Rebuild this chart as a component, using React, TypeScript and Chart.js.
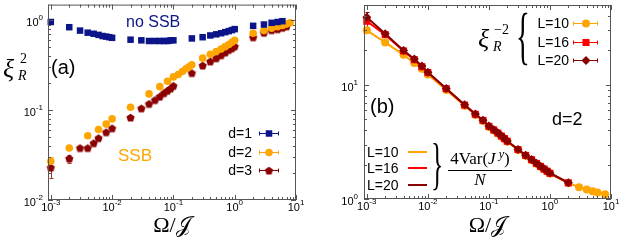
import { useEffect, useRef } from 'react';
import { Chart, registerables } from 'chart.js';
Chart.register(...registerables);

const NAVY = '#0c1489';
const ORANGE = '#ffa500';
const DARKRED = '#8b0000';
const RED = '#ff0000';
const FRAME = '#555555';
const SANS = "'Liberation Sans', Arial, sans-serif";
const SERIF = "'Liberation Serif', 'Times New Roman', serif";

// ---------- Panel (a): xi_R^2 vs Omega/J ----------
const A_X_D1 = [0.001, 0.002, 0.003, 0.004, 0.005, 0.006, 0.007, 0.008, 0.009, 0.01, 0.02, 0.03, 0.04, 0.05, 0.06, 0.07, 0.08, 0.09, 0.1, 0.2, 0.3, 0.4, 0.5, 0.6, 0.7, 0.8, 0.9, 1, 2, 3, 4, 5, 6];
const A_Y_D1 = [0.96, 0.84, 0.77, 0.73, 0.71, 0.69, 0.67, 0.66, 0.65, 0.64, 0.61, 0.6, 0.59, 0.59, 0.59, 0.59, 0.59, 0.6, 0.6, 0.63, 0.65, 0.68, 0.7, 0.72, 0.74, 0.76, 0.78, 0.8, 0.87, 0.9, 0.94, 0.96, 0.98];

const A_X_D2 = [0.001, 0.002, 0.004, 0.006, 0.008, 0.01, 0.02, 0.04, 0.06, 0.08, 0.1, 0.12, 0.14, 0.16, 0.18, 0.2, 0.3, 0.4, 0.5, 0.6, 0.7, 0.8, 0.9, 1, 2, 3, 4, 5, 6, 7, 8];
const A_Y_D2 = [0.027, 0.038, 0.052, 0.061, 0.07, 0.08, 0.108, 0.152, 0.183, 0.21, 0.235, 0.25, 0.27, 0.29, 0.305, 0.32, 0.38, 0.42, 0.45, 0.48, 0.51, 0.54, 0.57, 0.6, 0.72, 0.77, 0.82, 0.85, 0.88, 0.91, 0.94];
const A_ERR_D2 = [0.003, 0, 0, 0, 0, 0, 0, 0, 0, 0, 0, 0, 0, 0, 0, 0, 0, 0, 0, 0, 0, 0, 0, 0, 0, 0, 0, 0, 0, 0, 0];

const A_X_D3 = [0.001, 0.002, 0.003, 0.004, 0.005, 0.006, 0.008, 0.01, 0.02, 0.03, 0.04, 0.05, 0.06, 0.07, 0.08, 0.09, 0.1, 0.2, 0.3, 0.4, 0.5, 0.6, 0.7, 0.8, 0.9, 1, 2, 3, 4, 5, 6, 7];
const A_Y_D3 = [0.023, 0.029, 0.038, 0.038, 0.043, 0.049, 0.057, 0.063, 0.083, 0.105, 0.118, 0.13, 0.142, 0.155, 0.165, 0.175, 0.187, 0.26, 0.315, 0.35, 0.38, 0.41, 0.44, 0.47, 0.49, 0.515, 0.65, 0.73, 0.78, 0.8, 0.83, 0.86];
const A_ERR_D3 = [0.0055, 0.003, 0, 0, 0, 0, 0, 0, 0, 0, 0, 0, 0, 0, 0, 0, 0, 0, 0, 0, 0, 0, 0, 0, 0, 0, 0, 0, 0, 0, 0, 0];

const A_LEGEND = ['d=1', 'd=2', 'd=3'];
const A_Y_TICK_EXP = [-2, -1, 0];

// ---------- Panel (b): xi_R^-2 and 4Var(J^y)/N ----------
const B_X = [0.001, 0.002, 0.004, 0.006, 0.008, 0.01, 0.02, 0.04, 0.06, 0.08, 0.1, 0.12, 0.14, 0.16, 0.18, 0.2, 0.3, 0.4, 0.5, 0.6, 0.7, 0.8, 0.9, 1, 2];
const B_X_L10 = [0.001, 0.002, 0.004, 0.006, 0.008, 0.01, 0.02, 0.04, 0.06, 0.08, 0.1, 0.12, 0.14, 0.16, 0.18, 0.2, 0.3, 0.4, 0.5, 0.6, 0.7, 0.8, 0.9, 1, 2, 3, 4, 5, 6, 8];
const B_Y_L10 = [30, 23.5, 18.3, 15.5, 13.8, 12.3, 9.0, 6.55, 5.45, 4.82, 4.28, 3.99, 3.75, 3.53, 3.35, 3.18, 2.69, 2.39, 2.19, 2.04, 1.92, 1.82, 1.74, 1.67, 1.38, 1.27, 1.21, 1.17, 1.14, 1.1];
const B_Y_L16 = [36, 27.5, 19.8, 16.6, 14.4, 12.8, 9.25, 6.65, 5.52, 4.88, 4.33, 4.03, 3.78, 3.56, 3.38, 3.21, 2.71, 2.41, 2.21, 2.05, 1.93, 1.83, 1.75, 1.68, 1.385];
const B_Y_L20 = [39, 28, 20, 16.8, 14.6, 12.9, 9.3, 6.7, 5.55, 4.9, 4.35, 4.05, 3.8, 3.58, 3.4, 3.22, 2.72, 2.42, 2.22, 2.06, 1.94, 1.84, 1.76, 1.69, 1.39];
const B_ERR_L16 = [4, 0, 0, 0, 0, 0, 0, 0, 0, 0, 0, 0, 0, 0, 0, 0, 0, 0, 0, 0, 0, 0, 0, 0, 0];
const B_ERR_L20 = [4.5, 0, 0, 0, 0, 0, 0, 0, 0, 0, 0, 0, 0, 0, 0, 0, 0, 0, 0, 0, 0, 0, 0, 0, 0];

const B_LEGEND = ['L=10', 'L=16', 'L=20'];
const B_Y_TICK_EXP = [0, 1];
const X_TICK_EXP = [-3, -2, -1, 0, 1];

// ---------- helpers ----------
type Part = { t: string; f: string; dy?: number; c?: string };

function richWidth(ctx: CanvasRenderingContext2D, parts: Part[]) {
  let w = 0;
  for (const p of parts) {
    ctx.font = p.f;
    w += ctx.measureText(p.t).width;
  }
  return w;
}

function drawRich(ctx: CanvasRenderingContext2D, parts: Part[], x: number, y: number, align: 'left' | 'center' | 'right', color = '#000') {
  const w = richWidth(ctx, parts);
  let cx = align === 'left' ? x : align === 'center' ? x - w / 2 : x - w;
  ctx.textAlign = 'left';
  ctx.textBaseline = 'alphabetic';
  for (const p of parts) {
    ctx.font = p.f;
    ctx.fillStyle = p.c || color;
    ctx.fillText(p.t, cx, y + (p.dy || 0));
    cx += ctx.measureText(p.t).width;
  }
}

function makePentagon(color: string, r: number) {
  const size = Math.ceil(2 * r + 2);
  const c = document.createElement('canvas');
  c.width = size;
  c.height = size;
  const g = c.getContext('2d')!;
  g.fillStyle = color;
  g.beginPath();
  for (let i = 0; i < 5; i++) {
    const a = -Math.PI / 2 + (i * 2 * Math.PI) / 5;
    const px = size / 2 + r * Math.cos(a);
    const py = size / 2 + r * Math.sin(a) + r * 0.1;
    if (i === 0) g.moveTo(px, py);
    else g.lineTo(px, py);
  }
  g.closePath();
  g.fill();
  return c;
}

function drawMarker(ctx: CanvasRenderingContext2D, style: string, x: number, y: number, r: number, color: string, img?: HTMLCanvasElement) {
  ctx.fillStyle = color;
  ctx.beginPath();
  if (style === 'rect') {
    const s = r * Math.SQRT1_2;
    ctx.rect(x - s, y - s, 2 * s, 2 * s);
  } else if (style === 'circle') {
    ctx.arc(x, y, r, 0, Math.PI * 2);
  } else if (style === 'rectRot') {
    ctx.moveTo(x, y - r);
    ctx.lineTo(x + r, y);
    ctx.lineTo(x, y + r);
    ctx.lineTo(x - r, y);
    ctx.closePath();
  } else if (img) {
    ctx.drawImage(img, x - img.width / 2, y - img.height / 2);
    return;
  }
  ctx.fill();
}

function drawBrace(ctx: CanvasRenderingContext2D, ch: string, cx: number, top: number, bottom: number, xScale: number) {
  ctx.save();
  ctx.font = `100px ${SERIF}`;
  const m = ctx.measureText(ch);
  const h = m.actualBoundingBoxAscent + m.actualBoundingBoxDescent;
  const s = (bottom - top) / h;
  ctx.translate(cx, top);
  ctx.scale(s * xScale, s);
  ctx.textAlign = 'left';
  ctx.textBaseline = 'alphabetic';
  ctx.fillStyle = '#000';
  ctx.fillText(ch, -(m.actualBoundingBoxRight - m.actualBoundingBoxLeft) / 2, m.actualBoundingBoxAscent);
  ctx.restore();
}

function framePlugin(yExps: number[], yLabelGap: number, extra: (ctx: CanvasRenderingContext2D, chart: any) => void) {
  return {
    id: 'frameTicks',
    beforeDatasetsDraw(chart: any) {
      // error bars
      const ctx: CanvasRenderingContext2D = chart.ctx;
      const ys = chart.scales.y;
      chart.data.datasets.forEach((ds: any, i: number) => {
        if (!ds.errs) return;
        const meta = chart.getDatasetMeta(i);
        ctx.save();
        ctx.strokeStyle = ds.errColor || ds.borderColor;
        ctx.lineWidth = 1;
        ds.errs.forEach((e: number, j: number) => {
          if (!e) return;
          const pt = meta.data[j];
          const v = ds.data[j].y;
          const y1 = ys.getPixelForValue(v - e);
          const y2 = ys.getPixelForValue(v + e);
          const x = Math.round(pt.x) + 0.5;
          ctx.beginPath();
          ctx.moveTo(x, y1);
          ctx.lineTo(x, y2);
          ctx.moveTo(x - 2, Math.round(y1) + 0.5);
          ctx.lineTo(x + 2, Math.round(y1) + 0.5);
          ctx.moveTo(x - 2, Math.round(y2) + 0.5);
          ctx.lineTo(x + 2, Math.round(y2) + 0.5);
          ctx.stroke();
        });
        ctx.restore();
      });
    },
    afterDraw(chart: any) {
      const ctx: CanvasRenderingContext2D = chart.ctx;
      const { left, right, top, bottom } = chart.chartArea;
      const xs = chart.scales.x;
      const ys = chart.scales.y;
      ctx.save();
      ctx.strokeStyle = FRAME;
      ctx.lineWidth = 1;
      ctx.beginPath();
      for (let e = -4; e <= 2; e++) {
        for (let m = 1; m <= 9; m++) {
          const v = m * Math.pow(10, e);
          if (v >= xs.min * 0.9999 && v <= xs.max * 1.0001) {
            const p = Math.round(xs.getPixelForValue(v)) + 0.5;
            const L = m === 1 ? 5 : 3;
            ctx.moveTo(p, bottom);
            ctx.lineTo(p, bottom - L);
            ctx.moveTo(p, top);
            ctx.lineTo(p, top + L);
          }
          if (v >= ys.min * 0.9999 && v <= ys.max * 1.0001) {
            const p = Math.round(ys.getPixelForValue(v)) + 0.5;
            const L = m === 1 ? 5 : 3;
            ctx.moveTo(left, p);
            ctx.lineTo(left + L, p);
            ctx.moveTo(right, p);
            ctx.lineTo(right - L, p);
          }
        }
      }
      ctx.stroke();
      ctx.strokeRect(left + 0.5, top + 0.5, right - left - 1, bottom - top - 1);

      for (const e of X_TICK_EXP) {
        const p = xs.getPixelForValue(Math.pow(10, e));
        drawRich(ctx, [
          { t: '10', f: `11px ${SANS}` },
          { t: String(e), f: `8px ${SANS}`, dy: -6 },
        ], p, bottom + 11, 'center');
      }
      for (const e of yExps) {
        const p = ys.getPixelForValue(Math.pow(10, e));
        drawRich(ctx, [
          { t: '10', f: `11px ${SANS}` },
          { t: String(e), f: `8px ${SANS}`, dy: -6 },
        ], left - yLabelGap, p + 6, 'right');
      }
      // x title
      drawRich(ctx, [
        { t: 'Ω/', f: `22px ${SERIF}` },
        { t: '𝒥', f: `22px 'DejaVu Serif', 'DejaVu Sans', ${SERIF}` },
      ], (left + right) / 2, 232, 'center');
      extra(ctx, chart);
      ctx.restore();
    },
  };
}

const pentagonA = () => makePentagon(DARKRED, 4.3);

function configA(): any {
  const pent = pentagonA();
  return {
    type: 'scatter',
    data: {
      datasets: [
        {
          label: A_LEGEND[0],
          data: A_X_D1.map((x, i) => ({ x, y: A_Y_D1[i] })),
          pointStyle: 'rect', pointRadius: 4.6, backgroundColor: NAVY, borderColor: NAVY, borderWidth: 0,
          showLine: false, clip: false,
        },
        {
          label: A_LEGEND[1],
          data: A_X_D2.map((x, i) => ({ x, y: A_Y_D2[i] })),
          errs: A_ERR_D2,
          pointStyle: 'circle', pointRadius: 3.8, backgroundColor: ORANGE, borderColor: ORANGE, borderWidth: 0,
          showLine: false, clip: false,
        },
        {
          label: A_LEGEND[2],
          data: A_X_D3.map((x, i) => ({ x, y: A_Y_D3[i] })),
          errs: A_ERR_D3, errColor: '#b03030',
          pointStyle: pent, backgroundColor: DARKRED, borderColor: DARKRED, borderWidth: 0,
          showLine: false, clip: false,
        },
      ],
    },
    options: {
      animation: false,
      responsive: false,
      events: [],
      layout: { padding: { left: 48, right: 15, top: 2, bottom: 42 } },
      plugins: { legend: { display: false }, tooltip: { enabled: false } },
      scales: {
        x: { type: 'logarithmic', min: 0.0009, max: 10, display: false },
        y: { type: 'logarithmic', min: 0.01, max: 1.5, display: false },
      },
    },
    plugins: [framePlugin(A_Y_TICK_EXP, 5, (ctx) => {
      // y title xi_R^2
      drawRich(ctx, [{ t: 'ξ', f: `italic 26px ${SERIF}` }], 3, 77, 'left');
      drawRich(ctx, [{ t: '2', f: `14px ${SERIF}` }], 20, 63, 'left');
      drawRich(ctx, [{ t: 'R', f: `italic 14px ${SERIF}` }], 18, 80, 'left');
      drawRich(ctx, [{ t: '(a)', f: `20px ${SANS}` }], 51, 74, 'left');
      drawRich(ctx, [{ t: 'no SSB', f: `16px ${SANS}` }], 126, 27, 'left', NAVY);
      drawRich(ctx, [{ t: 'SSB', f: `17px ${SANS}` }], 118, 161, 'left', ORANGE);
      // legend
      const cols = [NAVY, ORANGE, DARKRED];
      const styles = ['rect', 'circle', 'pent'];
      const rs = [4.6, 3.8, 4.3];
      const ys = [133, 151.5, 170];
      for (let i = 0; i < 3; i++) {
        drawRich(ctx, [{ t: A_LEGEND[i], f: `14px ${SANS}` }], 252, ys[i] + 5, 'right');
        ctx.strokeStyle = cols[i];
        ctx.lineWidth = 1;
        const yy = Math.round(ys[i]) + 0.5;
        ctx.beginPath();
        ctx.moveTo(259, yy); ctx.lineTo(279, yy);
        ctx.moveTo(259.5, yy - 2); ctx.lineTo(259.5, yy + 2);
        ctx.moveTo(278.5, yy - 2); ctx.lineTo(278.5, yy + 2);
        ctx.stroke();
        drawMarker(ctx, styles[i], 269, yy, rs[i], cols[i], pent);
      }
    })],
  };
}

function configB(): any {
  return {
    type: 'scatter',
    data: {
      datasets: [
        {
          label: B_LEGEND[2],
          data: B_X.map((x, i) => ({ x, y: B_Y_L20[i] })),
          errs: B_ERR_L20,
          pointStyle: 'rectRot', pointRadius: 4.5, backgroundColor: DARKRED, borderColor: DARKRED, borderWidth: 2,
          pointBorderWidth: 0,
          showLine: true, clip: false,
        },
        {
          label: B_LEGEND[1],
          data: B_X.map((x, i) => ({ x, y: B_Y_L16[i] })),
          errs: B_ERR_L16,
          pointStyle: 'rect', pointRadius: 5, backgroundColor: RED, borderColor: RED, borderWidth: 2,
          pointBorderWidth: 0,
          showLine: true, clip: false,
        },
        {
          label: B_LEGEND[0],
          data: B_X_L10.map((x, i) => ({ x, y: B_Y_L10[i] })),
          pointStyle: 'circle', pointRadius: 4, backgroundColor: ORANGE, borderColor: ORANGE, borderWidth: 2,
          pointBorderWidth: 0,
          showLine: true, clip: false,
        },
      ],
    },
    options: {
      animation: false,
      responsive: false,
      events: [],
      layout: { padding: { left: 53, right: 12, top: 2, bottom: 43 } },
      plugins: { legend: { display: false }, tooltip: { enabled: false } },
      scales: {
        x: { type: 'logarithmic', min: 0.0009, max: 10, display: false },
        y: { type: 'logarithmic', min: 1, max: 50, display: false },
      },
    },
    plugins: [framePlugin(B_Y_TICK_EXP, 6, (ctx) => {
      const ox = -311; // panel coordinates measured in page pixels
      drawRich(ctx, [{ t: '(b)', f: `20px ${SANS}` }], 370 + ox, 113, 'left');
      drawRich(ctx, [{ t: 'd=2', f: `18px ${SANS}` }], 552 + ox, 125, 'left');
      // xi_R^-2 label with brace
      drawRich(ctx, [{ t: 'ξ', f: `italic 26px ${SERIF}` }], 478 + ox, 47, 'left');
      drawRich(ctx, [{ t: '−2', f: `14px ${SERIF}` }], 494 + ox, 34, 'left');
      drawRich(ctx, [{ t: 'R', f: `italic 14px ${SERIF}` }], 493 + ox, 51, 'left');
      drawBrace(ctx, '{', 523 + ox, 12, 65, 0.45);
      const cols = [ORANGE, RED, DARKRED];
      const styles = ['circle', 'rect', 'rectRot'];
      const rs = [4, 5, 4.5];
      const ty = [23, 41.5, 60];
      for (let i = 0; i < 3; i++) {
        drawRich(ctx, [{ t: B_LEGEND[i], f: `14px ${SANS}` }], 569 + ox, ty[i] + 5, 'right');
        ctx.strokeStyle = cols[i];
        ctx.lineWidth = 1;
        const yy = Math.round(ty[i]) + 0.5;
        ctx.beginPath();
        ctx.moveTo(573 + ox, yy); ctx.lineTo(598 + ox, yy);
        ctx.moveTo(573.5 + ox, yy - 2); ctx.lineTo(573.5 + ox, yy + 2);
        ctx.moveTo(597.5 + ox, yy - 2); ctx.lineTo(597.5 + ox, yy + 2);
        ctx.stroke();
        drawMarker(ctx, styles[i], 586 + ox, yy, rs[i], cols[i]);
      }
      // lower legend: lines for 4Var(J^y)/N
      const ly = [151.5, 168.3, 185];
      for (let i = 0; i < 3; i++) {
        drawRich(ctx, [{ t: B_LEGEND[i], f: `14px ${SANS}` }], 367 + ox, ly[i] + 5, 'left');
        ctx.strokeStyle = cols[i];
        ctx.lineWidth = 2;
        ctx.beginPath();
        ctx.moveTo(408 + ox, Math.round(ly[i]));
        ctx.lineTo(427 + ox, Math.round(ly[i]));
        ctx.stroke();
      }
      drawBrace(ctx, '}', 437 + ox, 143, 190, 0.45);
      drawRich(ctx, [
        { t: '4Var(', f: `17px ${SERIF}` },
        { t: 'J', f: `italic 17px ${SERIF}` },
        { t: ' y', f: `italic 12px ${SERIF}`, dy: -6 },
        { t: ')', f: `17px ${SERIF}` },
      ], 480 + ox, 164, 'center');
      ctx.strokeStyle = '#000';
      ctx.lineWidth = 1;
      ctx.beginPath();
      ctx.moveTo(448 + ox, 170.5);
      ctx.lineTo(512 + ox, 170.5);
      ctx.stroke();
      drawRich(ctx, [{ t: 'N', f: `italic 17px ${SERIF}` }], 480 + ox, 185, 'center');
    })],
  };
}

export default function App() {
  const refA = useRef<HTMLCanvasElement>(null);
  const refB = useRef<HTMLCanvasElement>(null);
  useEffect(() => {
    document.body.style.margin = '0';
    const a = new Chart(refA.current!, configA());
    const b = new Chart(refB.current!, configB());
    return () => {
      a.destroy();
      b.destroy();
    };
  }, []);
  return (
    <div style={{ position: 'relative', width: 623, height: 242, background: '#fff' }}>
      <canvas ref={refA} width={311} height={242} style={{ position: 'absolute', left: 0, top: 0 }} />
      <canvas ref={refB} width={312} height={242} style={{ position: 'absolute', left: 311, top: 0 }} />
    </div>
  );
}
